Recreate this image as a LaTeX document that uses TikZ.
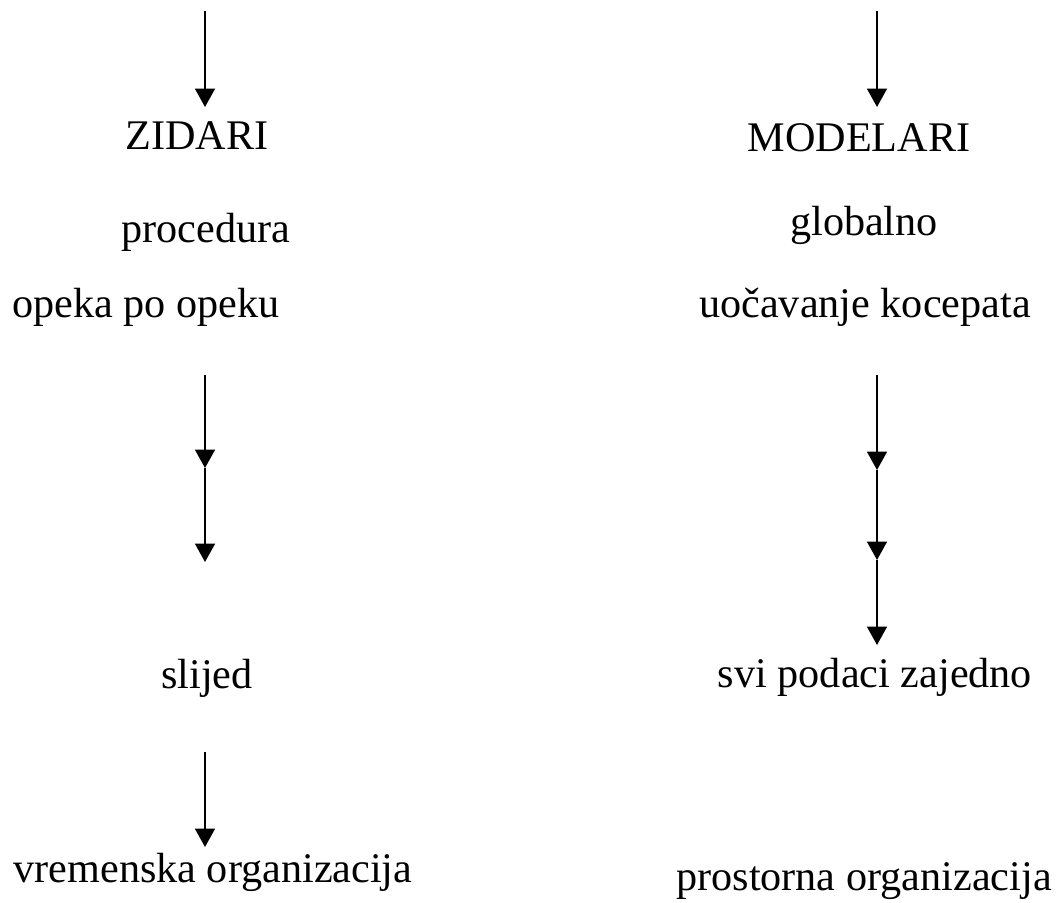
\documentclass[tikz,border=0pt]{standalone}
\usepackage{fontspec}
\setmainfont{Liberation Serif}
\usetikzlibrary{arrows.meta}
\tikzstyle{words} = [inner sep=0pt, anchor=base, font=\fontsize{12}{14}\selectfont]
\tikzstyle{arrow} = [line width=0.6pt, -{Triangle[width=5.6pt,length=5.2pt]}]

\begin{document}
\begin{tikzpicture}[x=0.01cm, y=-0.01cm]
        \useasboundingbox (0,0) rectangle (1061,902);

        % Text Labels
        \node[words] (zid) at (197,149) {ZIDARI};
        \node[words] (proc) at (206,242) {procedura};
        \node[words] (opeka) at (146,317) {opeka po opeku};
        \node[words] (slijed) at (207,688) {slijed};
        \node[words] (vrem) at (213,882) {vremenska organizacija};

        \node[words] (mod) at (859,151) {MODELARI};
        \node[words] (glob) at (864,235) {globalno};
        \node[words] (uoc) at (865,317) {uočavanje kocepata};
        \node[words] (svi) at (875,687) {svi podaci zajedno};
        \node[words] (prost) at (864,890) {prostorna organizacija};

        % Arrow ends
        \coordinate (zidtop) at (205,11);
        \coordinate (zidend) at (205,107);
        \coordinate (zid1) at (205,375);
        \coordinate (zid2) at (205,468);
        \coordinate (zid3) at (205,562);
        \coordinate (vremtop) at (205,752);
        \coordinate (vremend) at (205,847);

        \coordinate (modtop) at (877,11);
        \coordinate (modend) at (877,107);
        \coordinate (mod1) at (877,375);
        \coordinate (mod2) at (877,470);
        \coordinate (mod3) at (877,560);
        \coordinate (mod4) at (877,645);

        % Arrows
        \draw[arrow] (zidtop) -- (zidend);
        \draw[arrow] (zid1) -- (zid2);
        \draw[arrow] (zid2) -- (zid3);
        \draw[arrow] (vremtop) -- (vremend);

        \draw[arrow] (modtop) -- (modend);
        \draw[arrow] (mod1) -- (mod2);
        \draw[arrow] (mod2) -- (mod3);
        \draw[arrow] (mod3) -- (mod4);

    \end{tikzpicture}
\end{document}
